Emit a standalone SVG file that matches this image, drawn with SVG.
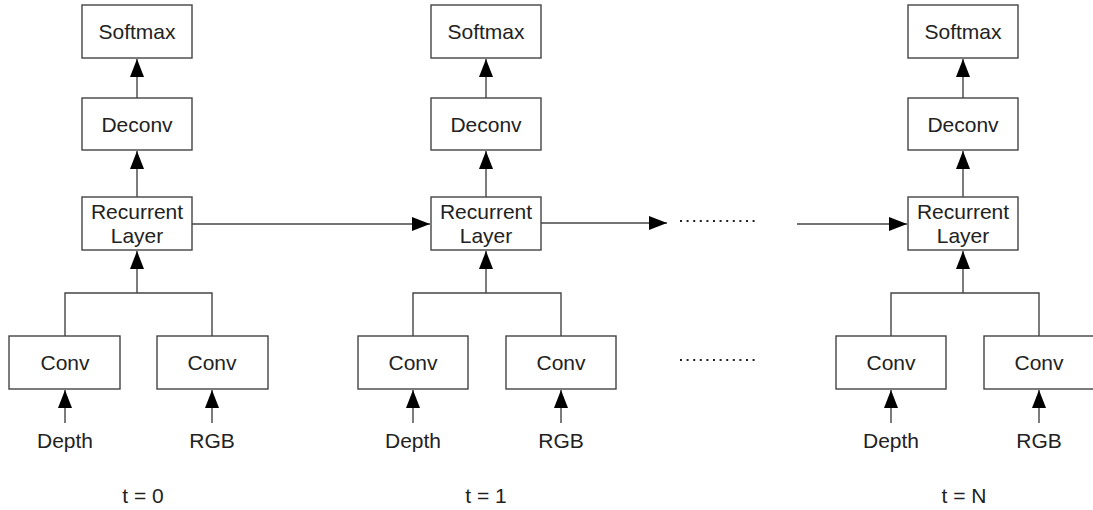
<svg xmlns="http://www.w3.org/2000/svg" width="1093" height="510" viewBox="0 0 1093 510">
<style>
.box{fill:#fff;stroke:#444;stroke-width:1.4}
.lbl{font-family:"Liberation Sans",Arial,sans-serif;font-size:21px;fill:#222;text-anchor:middle}
.ln{fill:none;stroke:#444;stroke-width:1.4}
.arr{fill:none;stroke:#444;stroke-width:1.4;marker-end:url(#ah)}
.dot{fill:none;stroke:#222;stroke-width:2;stroke-dasharray:2 4.6}
</style>
<defs>
<marker id="ah" markerUnits="userSpaceOnUse" markerWidth="19" markerHeight="15" refX="18" refY="7" orient="auto">
<path d="M0,0 L18,7 L0,14 z" fill="#000"/>
</marker>
</defs>
<rect width="1093" height="510" fill="#fff"/>
<g id="connectors">
<line class="arr" x1="137" y1="98" x2="137" y2="59"/>
<line class="arr" x1="137" y1="197" x2="137" y2="151"/>
<line class="arr" x1="137" y1="293" x2="137" y2="251"/>
<polyline class="ln" points="65,336 65,293 212,293 212,336"/>
<line class="arr" x1="65" y1="423" x2="65" y2="390"/>
<line class="arr" x1="212" y1="423" x2="212" y2="390"/>
<line class="arr" x1="486" y1="98" x2="486" y2="59"/>
<line class="arr" x1="486" y1="197" x2="486" y2="151"/>
<line class="arr" x1="486" y1="293" x2="486" y2="251"/>
<polyline class="ln" points="413,336 413,293 561,293 561,336"/>
<line class="arr" x1="413" y1="423" x2="413" y2="390"/>
<line class="arr" x1="561" y1="423" x2="561" y2="390"/>
<line class="arr" x1="963" y1="98" x2="963" y2="59"/>
<line class="arr" x1="963" y1="197" x2="963" y2="151"/>
<line class="arr" x1="963" y1="293" x2="963" y2="251"/>
<polyline class="ln" points="891,336 891,293 1039,293 1039,336"/>
<line class="arr" x1="891" y1="423" x2="891" y2="390"/>
<line class="arr" x1="1039" y1="423" x2="1039" y2="390"/>
<line class="arr" x1="192" y1="224" x2="430" y2="224"/>
<line class="arr" x1="541" y1="223" x2="667" y2="223"/>
<line class="arr" x1="797" y1="224" x2="907" y2="224"/>
<line class="dot" x1="680" y1="221" x2="756" y2="221"/>
<line class="dot" x1="680" y1="360" x2="756" y2="360"/>
</g>
<g id="col1">
<g id="softmax1"><rect class="box" x="82" y="5" width="110" height="53"/><text class="lbl" x="137" y="39">Softmax</text></g>
<g id="deconv1"><rect class="box" x="82" y="98" width="110" height="52"/><text class="lbl" x="137" y="132">Deconv</text></g>
<g id="rec1"><rect class="box" x="82" y="197" width="110" height="53"/><text class="lbl" x="137" y="219">Recurrent</text><text class="lbl" x="137" y="243">Layer</text></g>
<g id="convd1"><rect class="box" x="9" y="336" width="111" height="53"/><text class="lbl" x="65" y="370">Conv</text></g>
<g id="convr1"><rect class="box" x="157" y="336" width="111" height="53"/><text class="lbl" x="212" y="370">Conv</text></g>
<g id="depth1"><text class="lbl" x="65" y="448">Depth</text></g>
<g id="rgb1"><text class="lbl" x="212" y="448">RGB</text></g>
<g id="t0"><text class="lbl" x="143" y="503">t = 0</text></g>
</g>
<g id="col2">
<g id="softmax2"><rect class="box" x="431" y="5" width="110" height="53"/><text class="lbl" x="486" y="39">Softmax</text></g>
<g id="deconv2"><rect class="box" x="431" y="98" width="110" height="52"/><text class="lbl" x="486" y="132">Deconv</text></g>
<g id="rec2"><rect class="box" x="431" y="197" width="110" height="53"/><text class="lbl" x="486" y="219">Recurrent</text><text class="lbl" x="486" y="243">Layer</text></g>
<g id="convd2"><rect class="box" x="358" y="336" width="110" height="53"/><text class="lbl" x="413" y="370">Conv</text></g>
<g id="convr2"><rect class="box" x="506" y="336" width="110" height="53"/><text class="lbl" x="561" y="370">Conv</text></g>
<g id="depth2"><text class="lbl" x="413" y="448">Depth</text></g>
<g id="rgb2"><text class="lbl" x="561" y="448">RGB</text></g>
<g id="t1"><text class="lbl" x="486" y="503">t = 1</text></g>
</g>
<g id="col3">
<g id="softmax3"><rect class="box" x="908" y="5" width="110" height="53"/><text class="lbl" x="963" y="39">Softmax</text></g>
<g id="deconv3"><rect class="box" x="908" y="98" width="110" height="52"/><text class="lbl" x="963" y="132">Deconv</text></g>
<g id="rec3"><rect class="box" x="908" y="197" width="110" height="53"/><text class="lbl" x="963" y="219">Recurrent</text><text class="lbl" x="963" y="243">Layer</text></g>
<g id="convd3"><rect class="box" x="836" y="336" width="110" height="53"/><text class="lbl" x="891" y="370">Conv</text></g>
<g id="convr3"><rect class="box" x="984" y="336" width="110" height="53"/><text class="lbl" x="1039" y="370">Conv</text></g>
<g id="depth3"><text class="lbl" x="891" y="448">Depth</text></g>
<g id="rgb3"><text class="lbl" x="1039" y="448">RGB</text></g>
<g id="tN"><text class="lbl" x="964" y="503">t = N</text></g>
</g>
</svg>
